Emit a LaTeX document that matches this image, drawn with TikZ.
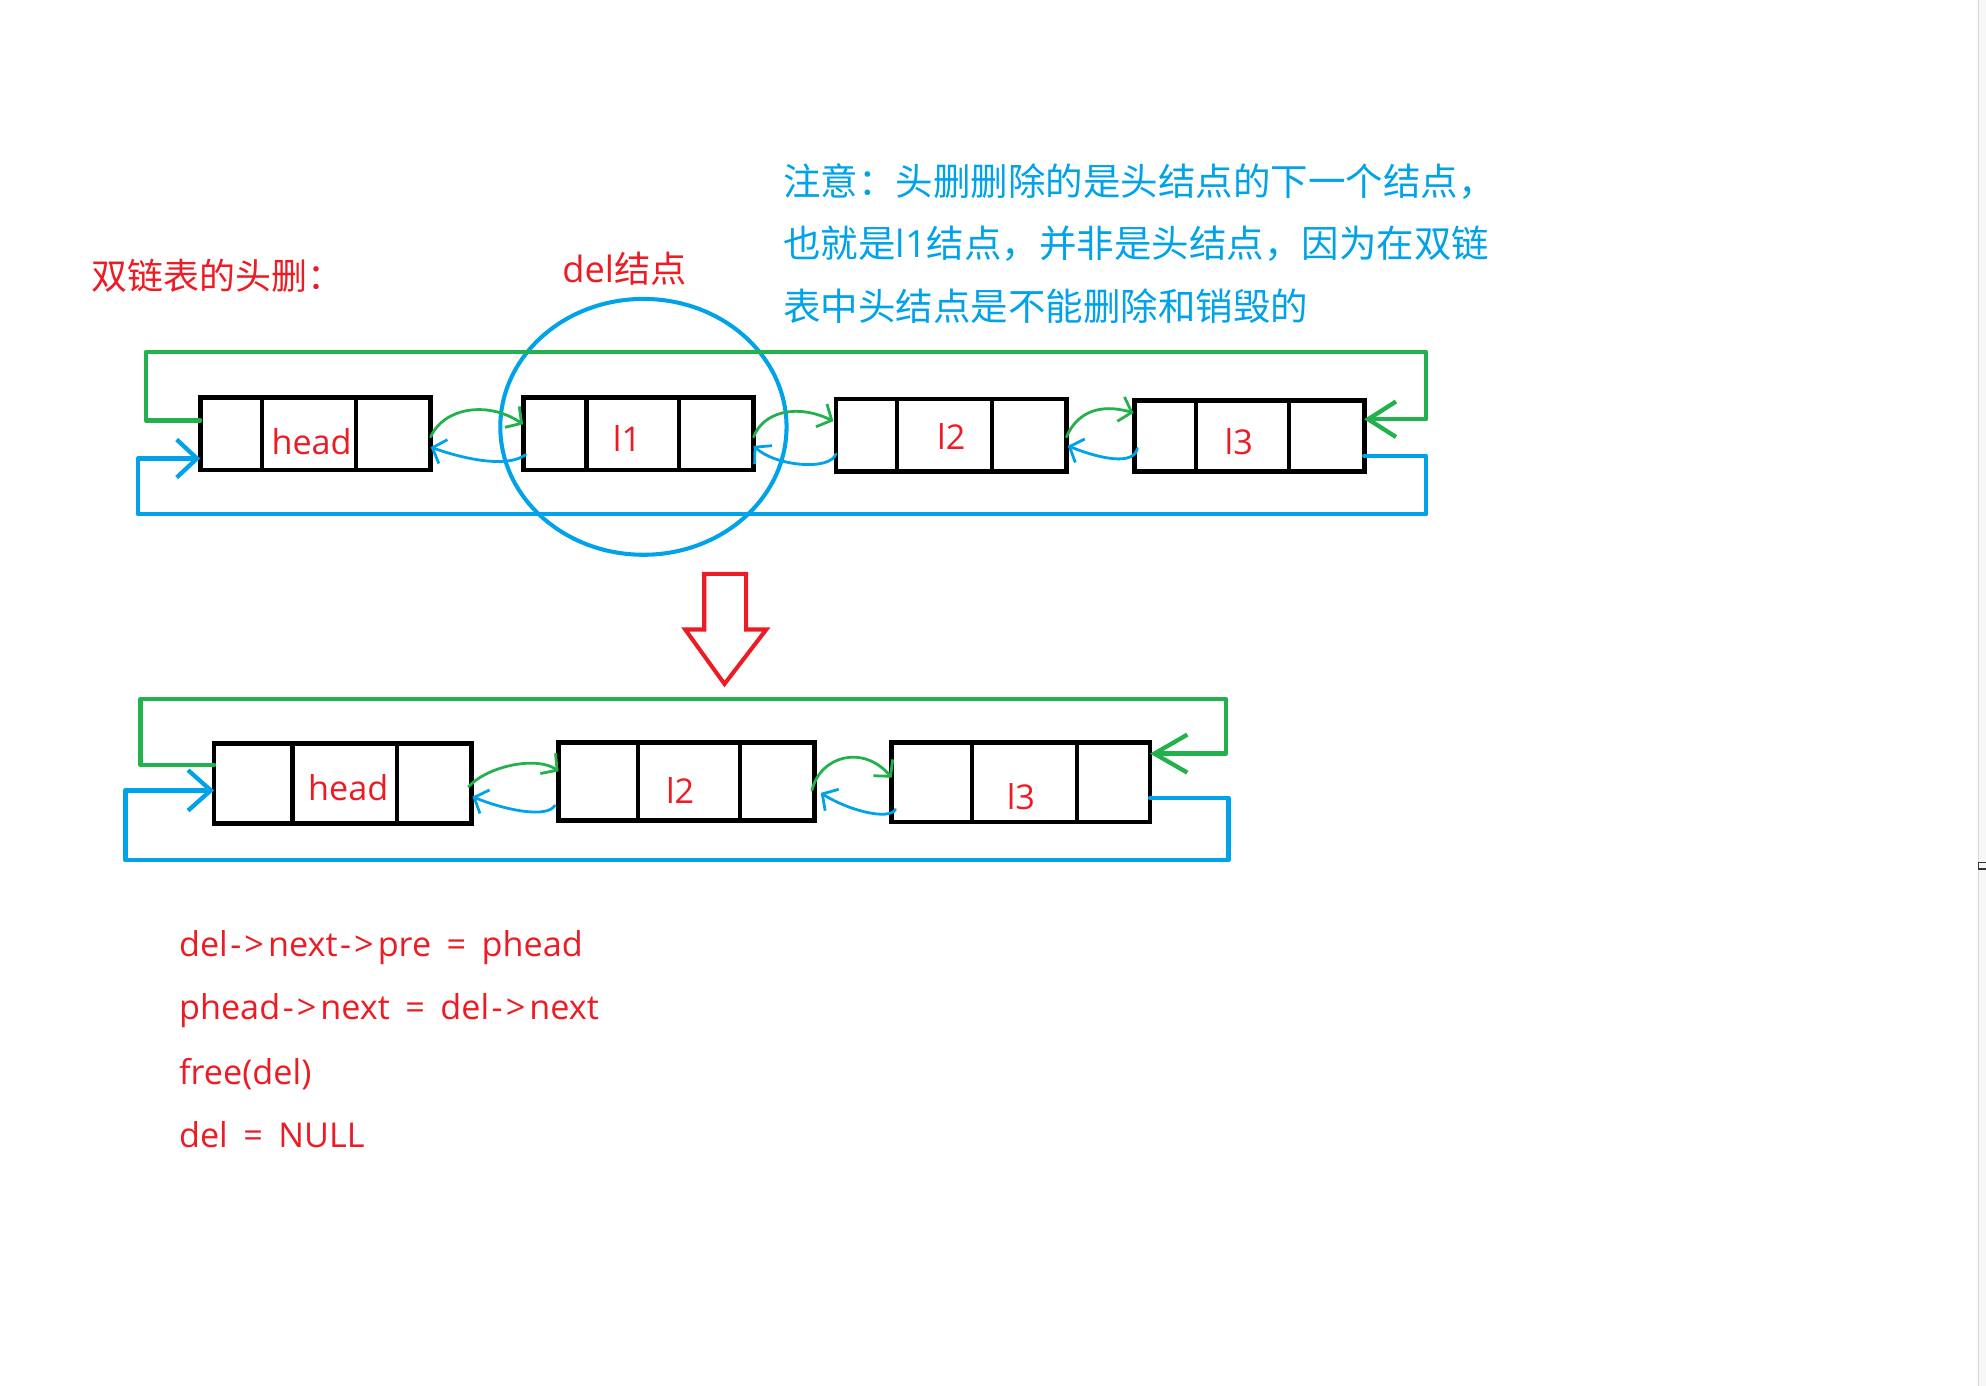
\documentclass[tikz,border=0pt]{standalone}
\usepackage{fontspec}
\setmainfont{Open Sans}
\newfontfamily\cjk{Noto Sans CJK SC}
\usetikzlibrary{arrows.meta,calc,shapes.geometric}
\definecolor{pred}{RGB}{237,28,36}
\definecolor{pgreen}{RGB}{34,177,76}
\definecolor{pblue}{RGB}{0,162,232}
\newcommand\myarr{\kern1pt-\kern1.2pt>\kern1.6pt}
\newcommand\myeq{\hspace{2.6pt} = \hspace{2.6pt}}
\begin{document}
\begin{tikzpicture}[x=0.5pt,y=-0.5pt, line cap=round, line join=round,
 cell/.style n args={4}{draw=black, line width=1.9pt, line join=miter, line cap=butt,
   minimum width=#1, minimum height=#2, inner sep=0pt, outer sep=0pt,
   path picture={
     \draw[line width=1.6pt] ($(path picture bounding box.north west)!#3!(path picture bounding box.north east)$) -- ($(path picture bounding box.south west)!#3!(path picture bounding box.south east)$);
     \draw[line width=1.6pt] ($(path picture bounding box.north west)!#4!(path picture bounding box.north east)$) -- ($(path picture bounding box.south west)!#4!(path picture bounding box.south east)$);}},
 lbl/.style={text=pred, font=\fontsize{13.5}{16}\selectfont, inner sep=0pt},
 codetxt/.style={text=pred, font=\fontsize{13.5}{16}\selectfont, inner sep=0pt, anchor=base west},
 notetxt/.style={text=pblue, font=\cjk\fontsize{14.8}{17}\selectfont, inner sep=0pt, anchor=west},
 gline/.style={draw=pgreen, line width=1.7pt},
 bline/.style={draw=pblue, line width=1.7pt},
 gthin/.style={draw=pgreen, line width=1.1pt},
 bthin/.style={draw=pblue, line width=1.1pt},
 smalltip/.style={-{Straight Barb[length=4.5pt,width=10pt]}},
]
\fill[white] (0,0) rectangle (1568,1094);
\useasboundingbox (0,0) rectangle (1568,1094);
% right edge strip
\fill[black!3] (1562,0) rectangle (1568,1094);
\draw[black!15, line width=0.6pt] (1562,0) -- (1562,1094);
\draw[black!80, line width=0.7pt, line cap=butt] (1568,681) -- (1562,681) -- (1562,686) -- (1568,686);

% titles
\node[text=pred, font=\cjk\fontsize{14.2}{16}\selectfont, inner sep=0pt, anchor=west] (title) at (72,218) {双链表的头删：};
\node[text=pred, font=\fontsize{14.3}{16}\selectfont, inner sep=0pt] (dellbl) at (493,212) {del{\cjk 结点}};
\node[notetxt] (note1) at (618,143) {注意：头删删除的是头结点的下一个结点，};
\node[notetxt] (note2) at (618,192.5) {也就是{\rmfamily l1}结点，并非是头结点，因为在双链};
\node[notetxt] (note3) at (618,242) {表中头结点是不能删除和销毁的};

% top row boxes
\node[cell={91pt}{28.5pt}{0.27}{0.675}] (hT) at (249,342.5) {};
\node[cell={91pt}{28.5pt}{0.275}{0.675}] (l1T) at (504,342.5) {};
\node[cell={91pt}{28.5pt}{0.265}{0.675}] (l2T) at (751,343.5) {};
\node[cell={90.5pt}{28pt}{0.265}{0.674}] (l3T) at (986.5,344) {};
\node[lbl] (hTt) at (246,349) {head};
\node[lbl] (l1Tt) at (495,346) {l1};
\node[lbl] (l2Tt) at (751,345) {l2};
\node[lbl] (l3Tt) at (978,349) {l3};

% del circle
\node[draw=pblue, line width=1.6pt, ellipse, minimum width=113pt, minimum height=101pt, inner sep=0pt] (delc) at (508,337) {};

% top loops
\draw[gline, -{Straight Barb[length=11pt,width=14pt]}] ($(hT.west)+(0,-10.5)$) -| (115,278) -| (1126,331) -- ($(l3T.east)+(0,-13)$);
\draw[bline, -{Straight Barb[length=8pt,width=15pt]}] ($(l3T.east)+(0,16)$) -| (1126,406) -| (109,362) -- ($(hT.west)+(0,19.5)$);

% top small arrows
\draw[gthin, smalltip] ($(hT.east)+(0,2.5)$) .. controls (350,322) and (385,316) .. ($(l1T.west)+(0,-7.5)$);
\draw[bthin, smalltip] ($(l1T.west)+(2,16.5)$) .. controls (400,370) and (365,362) .. ($(hT.east)+(0,10.5)$);
\draw[gthin, smalltip] ($(l1T.east)+(0,2.5)$) .. controls (602,326) and (628,318) .. ($(l2T.west)+(-2,-11)$);
\draw[bthin, smalltip] ($(l2T.west)+(0,15)$) .. controls (655,372) and (612,368) .. ($(l1T.east)+(0,9.5)$);
\draw[gthin, smalltip] ($(l2T.east)+(0,1.5)$) .. controls (850,326) and (868,318) .. ($(l3T.west)+(-1,-18)$);
\draw[bthin, smalltip] ($(l3T.west)+(2,10)$) .. controls (895,368) and (868,362) .. ($(l2T.east)+(1,8.5)$);

% red down arrow
\draw[pred, line width=1.6pt, line join=miter] (556,453) -- (589,453) -- (589,497) -- (605,497) -- (572,540) -- (541,497) -- (556,497) -- cycle;

% bottom row boxes
\node[cell={101.5pt}{31.5pt}{0.305}{0.71}] (hB) at (270.5,618.5) {};
\node[cell={101pt}{31pt}{0.31}{0.71}] (l2B) at (542,617) {};
\node[cell={102pt}{31.5pt}{0.31}{0.716}] (l3B) at (806,617.5) {};
\node[lbl] (hBt) at (275,622) {head};
\node[lbl] (l2Bt) at (537,624) {l2};
\node[lbl] (l3Bt) at (806,629) {l3};

% bottom loops
\draw[gline, -{Straight Barb[length=13pt,width=15pt]}] ($(hB.west)+(0,-14.5)$) -| (111,552) -| (968,595) -- ($(l3B.east)+(0,-22.5)$);
\draw[bline, -{Straight Barb[length=9pt,width=16pt]}] ($(l3B.east)+(0,12.5)$) -| (970,679) -| (99,624) -- ($(hB.west)+(0,5.5)$);

% bottom small arrows
\draw[gthin, smalltip] ($(hB.east)+(-2,2.5)$) .. controls (386,604) and (425,597) .. ($(l2B.west)+(0,-8)$);
\draw[bthin, smalltip] ($(l2B.west)+(-3,19)$) .. controls (432,646) and (400,640) .. ($(hB.east)+(1,10.5)$);
\draw[gthin, smalltip] ($(l2B.east)+(-2,7)$) .. controls (648,596) and (682,588) .. ($(l3B.west)+(0,-3.5)$);
\draw[bthin, smalltip] ($(l3B.west)+(3,21.5)$) .. controls (702,648) and (670,640) .. ($(l2B.east)+(5,9)$);

% code
\node[codetxt] (c1) at (141,755) {del\myarr next\myarr pre\myeq phead};
\node[codetxt] (c2) at (141,805) {phead\myarr next\myeq del\myarr next};
\node[codetxt] (c3) at (141,856) {free(del)};
\node[codetxt] (c4) at (141,906) {del\myeq NULL};
\end{tikzpicture}
\end{document}
